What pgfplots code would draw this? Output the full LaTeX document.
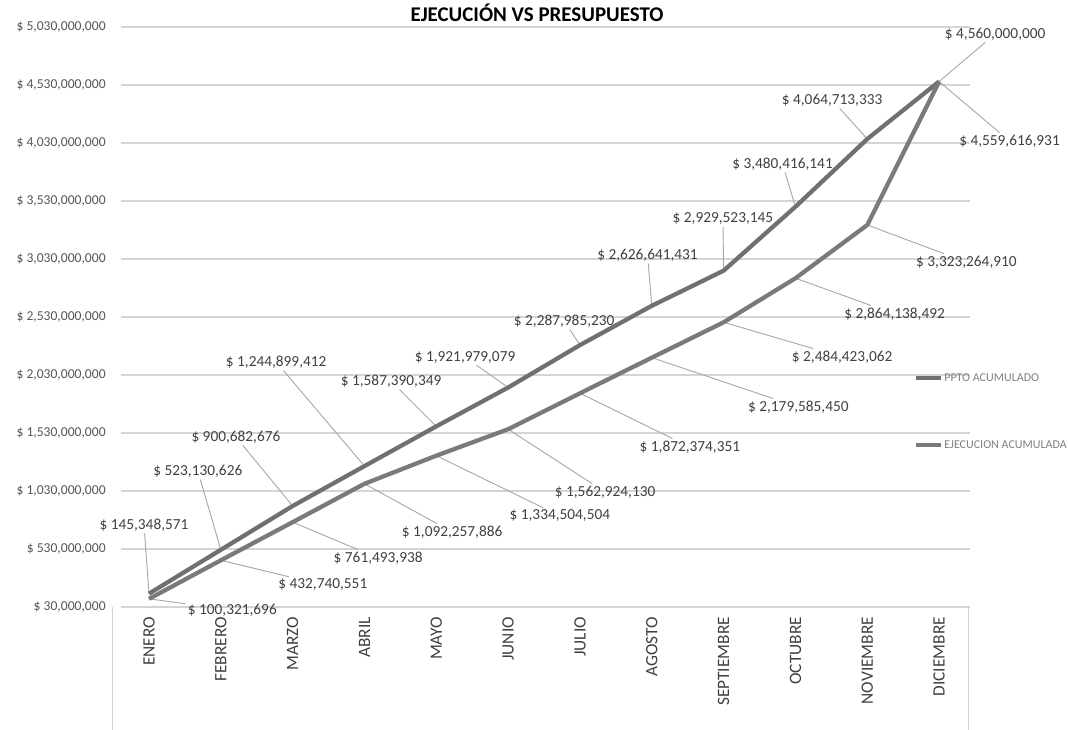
\documentclass[border=0pt]{standalone}
\usepackage{pgfplots}
\pgfplotsset{compat=1.18}
\usepackage{fontspec}
\setmainfont{Carlito}

\definecolor{ppto}{HTML}{707070}
\definecolor{ejec}{HTML}{7A7A7A}
\definecolor{txt}{HTML}{404040}
\definecolor{ytxt}{HTML}{555555}
\definecolor{lead}{HTML}{A8A8A8}
\definecolor{grd}{HTML}{D4D4D4}

\begin{document}
\begin{tikzpicture}[
  lbl/.style={font=\fontsize{11.5}{13}\selectfont, text=txt, inner sep=1.5pt},
  ldr/.style={draw=lead, line width=0.7pt},
]
% page = 1068 x 729 px at 0.75pt per px, origin at the plot's lower left corner
\path[use as bounding box] (-90.75pt,-91.5pt) rectangle (710.25pt,455.25pt);
\begin{axis}[
  at={(0pt,0pt)}, anchor=south west,
  scale only axis, width=636.75pt, height=435pt,
  xmin=-0.39, xmax=11.43,
  ymin=30000000, ymax=5030000000,
  scaled y ticks=false,
  clip=false,
  separate axis lines,
  axis x line*=bottom, axis y line*=left,
  x axis line style={draw=grd, line width=1pt, -},
  y axis line style={draw=none},
  major tick length=0pt,
  ymajorgrids, grid style={grd, line width=1pt},
  xtick={0,1,2,3,4,5,6,7,8,9,10,11},
  xticklabels={ENERO,FEBRERO,MARZO,ABRIL,MAYO,JUNIO,JULIO,AGOSTO,SEPTIEMBRE,OCTUBRE,NOVIEMBRE,DICIEMBRE},
  xticklabel shift=4pt,
  xticklabel style={rotate=90, anchor=east, font=\fontsize{13}{15}\selectfont, text=txt},
  ytick={30000000,530000000,1030000000,1530000000,2030000000,2530000000,3030000000,3530000000,4030000000,4530000000,5030000000},
  yticklabels={{\$ 30,000,000},{\$ 530,000,000},{\$ 1,030,000,000},{\$ 1,530,000,000},{\$ 2,030,000,000},{\$ 2,530,000,000},{\$ 3,030,000,000},{\$ 3,530,000,000},{\$ 4,030,000,000},{\$ 4,530,000,000},{\$ 5,030,000,000}},
  yticklabel style={anchor=east, xshift=-8pt, font=\fontsize{10.2}{12}\selectfont, text=ytxt},
  title={EJECUCIÓN VS PRESUPUESTO},
  title style={at={(0.49,1)}, anchor=center, yshift=5pt, font=\bfseries\fontsize{15.7}{18}\selectfont},
  legend style={draw=none, fill=none, at={(0.929,0.41)}, anchor=north west,
    font=\fontsize{9}{11}\selectfont, text=gray, row sep=41pt,
    nodes={inner sep=1pt}, cells={anchor=west}},
  legend image code/.code={\draw[#1, line width=3pt] (0pt,0pt) -- (18.75pt,0pt);},
]

% box under the x axis
\draw[grd, line width=1pt] (rel axis cs:-0.01,0) -- (rel axis cs:-0.01,-0.25);
\draw[grd, line width=1pt] (rel axis cs:0.998,0) -- (rel axis cs:0.998,-0.25);

% data labels, PPTO ACUMULADO
\node[lbl] (u1)  at (axis cs:-0.07,737e6)  {\$ 145,348,571};
\node[lbl] (u2)  at (axis cs:0.68,1202e6)  {\$ 523,130,626};
\node[lbl] (u3)  at (axis cs:1.21,1496e6)  {\$ 900,682,676};
\node[lbl] (u4)  at (axis cs:1.77,2142e6)  {\$ 1,244,899,412};
\node[lbl] (u5)  at (axis cs:3.37,1978e6)  {\$ 1,587,390,349};
\node[lbl] (u6)  at (axis cs:4.40,2185e6)  {\$ 1,921,979,079};
\node[lbl] (u7)  at (axis cs:5.78,2496e6)  {\$ 2,287,985,230};
\node[lbl] (u8)  at (axis cs:6.94,3065e6)  {\$ 2,626,641,431};
\node[lbl] (u9)  at (axis cs:7.99,3375e6)  {\$ 2,929,523,145};
\node[lbl] (u10) at (axis cs:8.82,3849e6)  {\$ 3,480,416,141};
\node[lbl] (u11) at (axis cs:9.51,4401e6)  {\$ 4,064,713,333};
\node[lbl] (u12) at (axis cs:11.78,4970e6) {\$ 4,560,000,000};
\draw[ldr] (u1)  -- (axis cs:0,145348571);
\draw[ldr] (u2)  -- (axis cs:1,523130626);
\draw[ldr] (u3)  -- (axis cs:2,900682676);
\draw[ldr] (u4)  -- (axis cs:3,1244899412);
\draw[ldr] (u5)  -- (axis cs:4,1587390349);
\draw[ldr] (u6)  -- (axis cs:5,1921979079);
\draw[ldr] (u7)  -- (axis cs:6,2287985230);
\draw[ldr] (u8)  -- (axis cs:7,2626641431);
\draw[ldr] (u9)  -- (axis cs:8,2929523145);
\draw[ldr] (u10) -- (axis cs:9,3480416141);
\draw[ldr] (u11) -- (axis cs:10,4064713333);
\draw[ldr] (u12) -- (axis cs:11,4560000000);

% data labels, EJECUCION ACUMULADA
\node[lbl] (l1)  at (axis cs:1.16,4e6)     {\$ 100,321,696};
\node[lbl] (l2)  at (axis cs:2.42,220e6)   {\$ 432,740,551};
\node[lbl] (l3)  at (axis cs:3.19,452e6)   {\$ 761,493,938};
\node[lbl] (l4)  at (axis cs:4.22,677e6)   {\$ 1,092,257,886};
\node[lbl] (l5)  at (axis cs:5.72,815e6)   {\$ 1,334,504,504};
\node[lbl] (l6)  at (axis cs:6.35,1021e6)  {\$ 1,562,924,130};
\node[lbl] (l7)  at (axis cs:7.53,1409e6)  {\$ 1,872,374,351};
\node[lbl] (l8)  at (axis cs:9.04,1754e6)  {\$ 2,179,585,450};
\node[lbl] (l9)  at (axis cs:9.65,2185e6)  {\$ 2,484,423,062};
\node[lbl] (l10) at (axis cs:10.38,2556e6) {\$ 2,864,138,492};
\node[lbl] (l11) at (axis cs:11.38,3004e6) {\$ 3,323,264,910};
\node[lbl] (l12) at (axis cs:11.98,4047e6) {\$ 4,559,616,931};
\draw[ldr] (l1)  -- (axis cs:0,100321696);
\draw[ldr] (l2)  -- (axis cs:1,432740551);
\draw[ldr] (l3)  -- (axis cs:2,761493938);
\draw[ldr] (l4)  -- (axis cs:3,1092257886);
\draw[ldr] (l5)  -- (axis cs:4,1334504504);
\draw[ldr] (l6)  -- (axis cs:5,1562924130);
\draw[ldr] (l7)  -- (axis cs:6,1872374351);
\draw[ldr] (l8)  -- (axis cs:7,2179585450);
\draw[ldr] (l9)  -- (axis cs:8,2484423062);
\draw[ldr] (l10) -- (axis cs:9,2864138492);
\draw[ldr] (l11) -- (axis cs:10,3323264910);
\draw[ldr] (l12) -- (axis cs:11,4559616931);

\addplot[ppto, line width=3.2pt, mark=none] coordinates {
  (0,145348571) (1,523130626) (2,900682676) (3,1244899412)
  (4,1587390349) (5,1921979079) (6,2287985230) (7,2626641431)
  (8,2929523145) (9,3480416141) (10,4064713333) (11,4560000000)
};
\addlegendentry{PPTO ACUMULADO}

\addplot[ejec, line width=3.2pt, mark=none] coordinates {
  (0,100321696) (1,432740551) (2,761493938) (3,1092257886)
  (4,1334504504) (5,1562924130) (6,1872374351) (7,2179585450)
  (8,2484423062) (9,2864138492) (10,3323264910) (11,4559616931)
};
\addlegendentry{EJECUCION ACUMULADA}

\end{axis}
\end{tikzpicture}
\end{document}
